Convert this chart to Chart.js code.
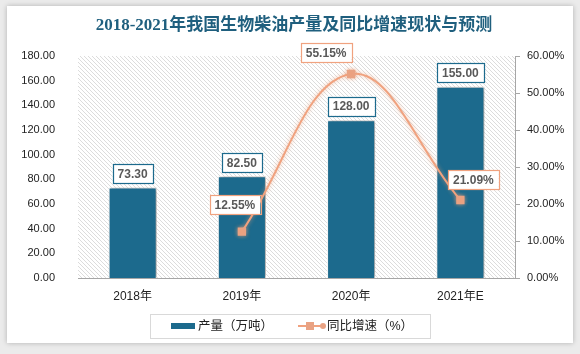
<!DOCTYPE html>
<html>
<head>
<meta charset="utf-8">
<script src="https://cdn.jsdelivr.net/npm/chart.js@4/dist/chart.umd.min.js"></script>
<style>
  html, body { margin: 0; padding: 0; background: #ebebeb; }
  #card { position: absolute; left: 7px; top: 6px; width: 566px; height: 337px; background: #fff; box-shadow: 0 0 5px rgba(0,0,0,0.25); }
  #c { position: absolute; left: 0; top: 0; }
</style>
</head>
<body>
<div id="card"></div>
<canvas id="c" width="580" height="354"></canvas>
<script>
// data
const years = ['2018年', '2019年', '2020年', '2021年E'];
const output = [73.30, 82.50, 128.00, 155.00];      // 产量（万吨）
const growth = [null, 12.55, 55.15, 21.09];          // 同比增速（%）
const leftTicks = [0, 20, 40, 60, 80, 100, 120, 140, 160, 180];
const rightTicks = [0, 10, 20, 30, 40, 50, 60];

const BLUE = '#1c6a8d';
const ORANGE = '#f0a27f';
const FONT = '"Liberation Sans", "Noto Sans CJK SC", sans-serif';

// offsets of the growth labels from their points
const lineLabelOffset = [null, [-7, -27], [-25, -21], [13, -20]];

function hatch(ctx) {
  const p = document.createElement('canvas');
  p.width = 4; p.height = 4;
  const g = p.getContext('2d');
  g.strokeStyle = '#dcdcdc';
  g.lineWidth = 1;
  g.beginPath();
  g.moveTo(-1, -1); g.lineTo(5, 5);
  g.moveTo(3, -1); g.lineTo(5, 1);
  g.moveTo(-1, 3); g.lineTo(1, 5);
  g.stroke();
  return ctx.createPattern(p, 'repeat');
}

function labelBox(ctx, text, cx, cy, border) {
  ctx.font = 'bold 12px ' + FONT;
  const w = ctx.measureText(text).width + 10;
  const h = 19;
  ctx.fillStyle = '#fff';
  ctx.fillRect(cx - w / 2, cy - h / 2, w, h);
  ctx.strokeStyle = border;
  ctx.lineWidth = 1.2;
  ctx.strokeRect(Math.round(cx - w / 2) + 0.5, Math.round(cy - h / 2) + 0.5, Math.round(w), h);
  ctx.fillStyle = '#595959';
  ctx.textAlign = 'center';
  ctx.textBaseline = 'middle';
  ctx.fillText(text, cx, cy + 1);
}

const decor = {
  id: 'decor',
  beforeDraw(chart) {
    const { ctx, chartArea: a } = chart;
    ctx.save();
    ctx.fillStyle = hatch(ctx);
    ctx.fillRect(a.left, a.top, a.right - a.left, a.bottom - a.top);
    ctx.restore();
    // title
    ctx.save();
    ctx.font = 'bold 17px "Liberation Serif", "Noto Sans CJK SC", serif';
    ctx.fillStyle = '#1f5f7e';
    ctx.textAlign = 'center';
    ctx.textBaseline = 'middle';
    ctx.fillText('2018-2021年我国生物柴油产量及同比增速现状与预测', 294, 26);
    ctx.restore();
  },
  beforeDatasetDraw(chart, args) {
    const ctx = chart.ctx;
    ctx.save();
    if (args.index === 0) {
      ctx.shadowColor = 'rgba(0,0,0,0.4)';
      ctx.shadowBlur = 4;
      ctx.shadowOffsetX = 2;
    } else {
      ctx.shadowColor = 'rgba(240,160,120,0.7)';
      ctx.shadowBlur = 4;
    }
  },
  afterDatasetDraw(chart) {
    chart.ctx.restore();
  },
  afterDatasetsDraw(chart) {
    const ctx = chart.ctx;
    ctx.save();
    chart.getDatasetMeta(0).data.forEach((bar, i) => {
      labelBox(ctx, output[i].toFixed(2), bar.x, bar.y - 14, BLUE);
    });
    chart.getDatasetMeta(1).data.forEach((pt, i) => {
      if (growth[i] == null) return;
      const o = lineLabelOffset[i];
      labelBox(ctx, growth[i].toFixed(2) + '%', pt.x + o[0], pt.y + o[1], ORANGE);
    });
    // legend
    ctx.strokeStyle = '#d9d9d9';
    ctx.lineWidth = 1;
    ctx.strokeRect(150.5, 314.5, 280, 24);
    ctx.fillStyle = BLUE;
    ctx.fillRect(171, 323, 24, 6);
    ctx.strokeStyle = ORANGE;
    ctx.lineWidth = 2;
    ctx.beginPath(); ctx.moveTo(298, 326); ctx.lineTo(323, 326); ctx.stroke();
    ctx.fillStyle = '#e9a283';
    ctx.fillRect(306, 322, 8, 8);
    ctx.beginPath(); ctx.arc(323, 326, 3, 0, Math.PI * 2); ctx.fill();
    ctx.fillStyle = '#222';
    ctx.font = '12.5px ' + FONT;
    ctx.textAlign = 'left';
    ctx.textBaseline = 'middle';
    ctx.fillText('产量（万吨）', 198, 327);
    ctx.fillText('同比增速（%）', 327, 327);
    ctx.restore();
  }
};

new Chart(document.getElementById('c'), {
  data: {
    labels: years,
    datasets: [
      {
        type: 'bar',
        label: '产量（万吨）',
        data: output,
        backgroundColor: BLUE,
        borderColor: '#ffffff',
        borderWidth: 1,
        categoryPercentage: 1,
        barPercentage: 0.44,
        yAxisID: 'y',
        order: 1
      },
      {
        type: 'line',
        label: '同比增速（%）',
        data: growth,
        borderColor: ORANGE,
        borderWidth: 2,
        tension: 0.4,
        pointStyle: 'rect',
        pointRadius: 4.5,
        pointBackgroundColor: '#e9a283',
        pointBorderColor: '#e9a283',
        yAxisID: 'y1',
        order: 0
      }
    ]
  },
  options: {
    responsive: false,
    animation: false,
    layout: { padding: { top: 56, left: 0, right: 0, bottom: 46 } },
    plugins: {
      legend: { display: false },
      title: { display: false },
      tooltip: { enabled: false }
    },
    scales: {
      x: {
        grid: { display: false, drawTicks: false },
        border: { display: true, color: '#a6a6a6' },
        ticks: { color: '#222', font: { family: FONT, size: 12 }, padding: 11 },
        afterFit: s => { s.height = 30; }
      },
      y: {
        position: 'left',
        min: 0,
        max: 180,
        grid: { display: false, drawTicks: false },
        border: { display: false },
        afterBuildTicks: s => { s.ticks = leftTicks.map(v => ({ value: v })); },
        ticks: { color: '#222', font: { family: FONT, size: 11 }, padding: 23, callback: v => v.toFixed(2) },
        afterFit: s => { s.width = 78; }
      },
      y1: {
        position: 'right',
        min: 0,
        max: 60,
        grid: { drawOnChartArea: false, drawTicks: true, tickLength: 5, color: '#a6a6a6' },
        border: { display: true, color: '#a6a6a6' },
        afterBuildTicks: s => { s.ticks = rightTicks.map(v => ({ value: v })); },
        ticks: { color: '#222', font: { family: FONT, size: 11 }, padding: 7, callback: v => v.toFixed(2) + '%' },
        afterFit: s => { s.width = 65; }
      }
    }
  },
  plugins: [decor]
});
</script>
</body>
</html>
